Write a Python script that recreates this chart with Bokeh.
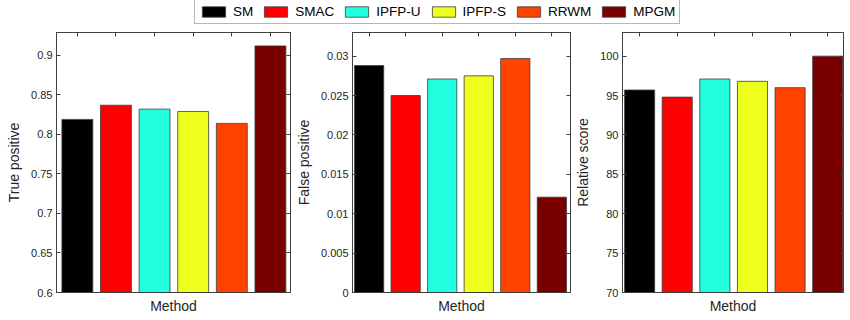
from bokeh.plotting import figure
from bokeh.models import (Range1d, FixedTicker, LinearAxis, Legend, LegendItem,
                          CustomLabelingPolicy)
from bokeh.layouts import column, row
from bokeh.embed import file_html
from bokeh.resources import INLINE

methods = ["SM", "SMAC", "IPFP-U", "IPFP-S", "RRWM", "MPGM"]
colors = ["#000000", "#ff0000", "#22ffe0", "#eeff1e", "#ff4200", "#7a0000"]
positions = [1, 2, 3, 4, 5, 6]

true_positive = [0.819, 0.837, 0.832, 0.829, 0.814, 0.912]
false_positive = [0.0288, 0.0250, 0.0271, 0.0275, 0.0297, 0.0121]
relative_score = [95.7, 94.8, 97.1, 96.8, 96.0, 100.0]

tp_ticks = [0.6, 0.65, 0.7, 0.75, 0.8, 0.85, 0.9]
tp_labels = ["0.6", "0.65", "0.7", "0.75", "0.8", "0.85", "0.9"]
fp_ticks = [0, 0.005, 0.01, 0.015, 0.02, 0.025, 0.03]
fp_labels = ["0", "0.005", "0.01", "0.015", "0.02", "0.025", "0.03"]
rs_ticks = [70, 75, 80, 85, 90, 95, 100]
rs_labels = ["70", "75", "80", "85", "90", "95", "100"]

FONT = "Liberation Sans"
AX = "#404040"
TXT = "#262626"

HIDE = "for (const i of Array.from(indices)) { indices.unset(i) }; return indices"


def no_labels():
    return CustomLabelingPolicy(code=HIDE)


def panel(vals, ylabel, yr, ticks, labels, xr, width, bl, br):
    p = figure(width=width, height=290, x_range=Range1d(*xr), y_range=Range1d(*yr),
               output_backend="svg", toolbar_location=None,
               min_border_left=bl, min_border_right=br, min_border_top=2, min_border_bottom=28)
    p.vbar(x=positions, top=vals, bottom=yr[0], width=0.8, fill_color=colors,
           line_color="#3c3c3c", line_width=0.8)
    p.grid.visible = False
    p.outline_line_color = AX
    p.outline_line_width = 1
    p.background_fill_color = "white"
    p.border_fill_color = "white"

    ya = p.yaxis[0]
    ya.ticker = FixedTicker(ticks=ticks)
    ya.major_label_overrides = {t: l for t, l in zip(ticks, labels)}
    ya.axis_label = ylabel
    ya.axis_label_text_font = FONT
    ya.axis_label_text_font_size = "14px"
    ya.axis_label_text_font_style = "normal"
    ya.axis_label_text_color = TXT
    ya.axis_label_standoff = 6
    ya.major_label_text_font = FONT
    ya.major_label_text_font_size = "11px"
    ya.major_label_text_color = TXT
    ya.major_label_standoff = 4
    ya.major_tick_in = 4
    ya.major_tick_out = 0
    ya.minor_tick_line_color = None
    ya.axis_line_color = AX
    ya.major_tick_line_color = AX

    xa = p.xaxis[0]
    xa.ticker = FixedTicker(ticks=positions)
    xa.major_label_policy = no_labels()
    xa.major_label_text_font_size = "0px"
    xa.major_label_standoff = 0
    xa.major_tick_in = 0
    xa.major_tick_out = 0
    xa.minor_tick_line_color = None
    xa.axis_line_color = AX
    xa.axis_label = "Method"
    xa.axis_label_text_font = FONT
    xa.axis_label_text_font_size = "14px"
    xa.axis_label_text_font_style = "normal"
    xa.axis_label_text_color = TXT
    xa.axis_label_standoff = 5

    ra = LinearAxis(ticker=FixedTicker(ticks=ticks), major_label_policy=no_labels(),
                    major_label_text_font_size="0px",
                    major_label_standoff=0, major_tick_in=4, major_tick_out=0,
                    minor_tick_line_color=None, axis_line_color=AX, major_tick_line_color=AX)
    p.add_layout(ra, "right")
    ta = LinearAxis(ticker=FixedTicker(ticks=positions), major_label_policy=no_labels(),
                    major_label_text_font_size="0px",
                    major_label_standoff=0, major_tick_in=4, major_tick_out=0,
                    minor_tick_line_color=None, axis_line_color=AX, major_tick_line_color=AX)
    p.add_layout(ta, "above")
    return p


p1 = panel(true_positive, "True positive", (0.6, 0.929), tp_ticks, tp_labels, (0.46, 6.52), 292, 56, 2)
p2 = panel(false_positive, "False positive", (0, 0.033), fp_ticks, fp_labels, (0.545, 6.51), 280, 55, 2)
p3 = panel(relative_score, "Relative score", (70, 103), rs_ticks, rs_labels, (0.545, 6.42), 278, 45, 7)

lg = figure(width=850, height=30, x_range=Range1d(0, 1), y_range=Range1d(0, 1),
            output_backend="svg", toolbar_location=None,
            min_border_left=0, min_border_right=0, min_border_top=0, min_border_bottom=0)
lg.axis.visible = False
lg.grid.visible = False
lg.outline_line_color = None
items = []
for m, c in zip(methods, colors):
    r = lg.vbar(x=[0.5], top=[0.5], width=0.1, fill_color=c,
                line_color="#3c3c3c", line_width=0.8)
    r.visible = False
    items.append(LegendItem(label=m, renderers=[r]))
legend = Legend(items=items, orientation="horizontal", location=(194, 6),
                glyph_width=29, glyph_height=13, label_height=13, label_standoff=5,
                spacing=8, padding=4, margin=0, inactive_fill_alpha=0,
                label_text_font=FONT, label_text_font_size="13.5px", label_text_color="#000000",
                border_line_color="#6e6e6e", border_line_width=1, background_fill_alpha=1)
lg.add_layout(legend, "center")

layout = column(lg, row(p1, p2, p3))
open("out.html", "w").write(file_html(layout, INLINE))
